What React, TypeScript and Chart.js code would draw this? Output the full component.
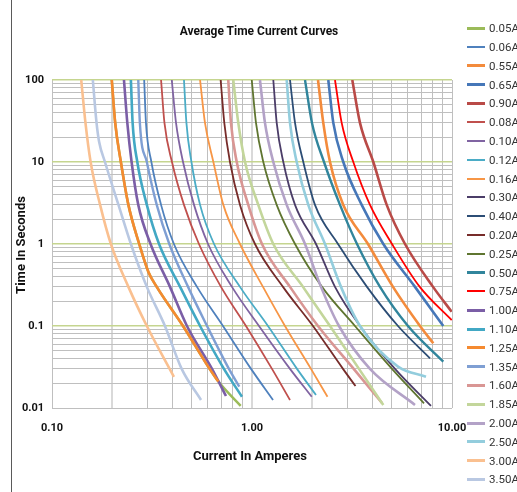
import React, { useEffect, useRef } from 'react';
import { Chart, registerables } from 'chart.js';

Chart.register(...registerables);

// ---- Series labels (legend order) ----
const seriesLabels = [
  '0.05A', '0.06A', '0.55A', '0.65A', '0.90A', '0.08A', '0.10A', '0.12A', '0.16A',
  '0.30A', '0.40A', '0.20A', '0.25A', '0.50A', '0.75A', '1.00A', '1.10A', '1.25A',
  '1.35A', '1.60A', '1.85A', '2.00A', '2.50A', '3.00A', '3.50A',
];

// ---- Current (A) / time (s) readings per series ----
const amps005 = [0.199, 0.207, 0.221, 0.241, 0.273, 0.303, 0.334, 0.452, 0.614, 0.679, 0.878];
const secs005 = [100, 30, 10, 3, 1, 0.46, 0.3, 0.1, 0.03, 0.021, 0.0106];

const amps006 = [0.289, 0.295, 0.314, 0.351, 0.407, 0.531, 0.716, 0.989, 1.274];
const secs006 = [100, 30, 10, 3, 1, 0.3, 0.1, 0.03, 0.0125];

const amps055 = [2.138, 2.272, 2.455, 2.861, 3.802, 5.07, 6.918, 8.063];
const secs055 = [100, 30, 10, 3, 1, 0.3, 0.1, 0.0615];

const amps065 = [2.407, 2.55, 2.861, 3.536, 4.535, 6.531, 9.047];
const secs065 = [100, 30, 10, 3, 1, 0.3, 0.1];

const amps090 = [3.173, 3.467, 4.042, 4.716, 5.821, 8.04, 9.966];
const secs090 = [100, 30, 10, 3, 1, 0.3, 0.149];

const amps008 = [0.351, 0.365, 0.398, 0.457, 0.543, 0.7, 0.933, 1.259, 1.549];
const secs008 = [100, 30, 10, 3, 1, 0.3, 0.1, 0.03, 0.0125];

const amps010 = [0.397, 0.417, 0.452, 0.513, 0.603, 0.794, 1.084, 1.549, 1.989];
const secs010 = [100, 30, 10, 3, 1, 0.3, 0.1, 0.03, 0.0137];

const amps012 = [0.457, 0.47, 0.498, 0.55, 0.646, 0.871, 1.202, 1.679, 2.089];
const secs012 = [100, 30, 10, 3, 1, 0.3, 0.1, 0.03, 0.0144];

const amps016 = [0.55, 0.582, 0.641, 0.719, 0.871, 1.135, 1.462, 1.972, 2.385];
const secs016 = [100, 30, 10, 3, 1, 0.3, 0.1, 0.03, 0.0137];

const amps030 = [1.278, 1.329, 1.434, 1.641, 2.089, 2.6, 3.467, 5.188, 7.852];
const secs030 = [100, 30, 10, 3, 1, 0.3, 0.1, 0.03, 0.0106];

const amps040 = [1.549, 1.641, 1.805, 2.065, 2.692, 3.758, 5.37, 7.762];
const secs040 = [100, 30, 10, 3, 1, 0.3, 0.1, 0.0404];

const amps020 = [0.697, 0.727, 0.776, 0.871, 1.035, 1.429, 2.018, 2.851, 3.292];
const secs020 = [100, 30, 10, 3, 1, 0.3, 0.1, 0.03, 0.0185];

const amps025 = [0.997, 1.047, 1.139, 1.329, 1.641, 2.239, 3.273, 5.012, 7.244];
const secs025 = [100, 30, 10, 3, 1, 0.3, 0.1, 0.03, 0.0114];

const amps050 = [1.841, 1.995, 2.291, 2.754, 3.35, 4.365, 6.026, 9.047];
const secs050 = [100, 30, 10, 3, 1, 0.3, 0.1, 0.0367];

const amps075 = [2.6, 2.808, 3.21, 3.89, 5.012, 6.9, 9.966];
const secs075 = [100, 30, 10, 3, 1, 0.3, 0.118];

const amps100 = [0.229, 0.238, 0.25, 0.27, 0.311, 0.389, 0.473, 0.631, 0.741];
const secs100 = [100, 30, 10, 3, 1, 0.3, 0.1, 0.03, 0.014];

const amps110 = [0.248, 0.253, 0.267, 0.298, 0.343, 0.437, 0.55, 0.724, 0.891];
const secs110 = [100, 30, 10, 3, 1, 0.3, 0.1, 0.03, 0.0137];

const amps125 = [0.199, 0.207, 0.221, 0.241, 0.273, 0.303, 0.334, 0.452, 0.614, 0.679];
const secs125 = [100, 30, 10, 3, 1, 0.46, 0.3, 0.1, 0.03, 0.021];

const amps135 = [0.27, 0.275, 0.298, 0.334, 0.386, 0.479, 0.596, 0.767, 0.864];
const secs135 = [100, 30, 10, 3, 1, 0.3, 0.1, 0.03, 0.0182];

const amps160 = [0.761, 0.785, 0.839, 0.958, 1.122, 1.549, 2.138, 3.225, 4.467];
const secs160 = [100, 30, 10, 3, 1, 0.3, 0.1, 0.03, 0.0115];

const amps185 = [0.806, 0.854, 0.923, 1.075, 1.278, 1.799, 2.455, 3.428, 4.535];
const secs185 = [100, 30, 10, 3, 1, 0.3, 0.1, 0.03, 0.0109];

const amps200 = [1.096, 1.161, 1.278, 1.491, 1.841, 2.213, 2.723, 3.89, 6.531];
const secs200 = [100, 30, 10, 3, 1, 0.3, 0.1, 0.03, 0.0109];

const amps250 = [1.491, 1.549, 1.673, 1.912, 2.317, 2.786, 3.467, 5.37, 7.413];
const secs250 = [100, 30, 10, 3, 1, 0.3, 0.1, 0.032, 0.0241];

const amps300 = [0.14, 0.147, 0.156, 0.174, 0.197, 0.241, 0.298, 0.407];
const secs300 = [100, 30, 10, 3, 1, 0.3, 0.1, 0.024];

const amps350 = [0.16, 0.167, 0.172, 0.184, 0.215, 0.248, 0.298, 0.367, 0.445, 0.556];
const secs350 = [100, 30, 17.7, 10, 3, 1, 0.3, 0.1, 0.03, 0.0125];

const seriesAmps = [
  amps005, amps006, amps055, amps065, amps090, amps008, amps010, amps012, amps016,
  amps030, amps040, amps020, amps025, amps050, amps075, amps100, amps110, amps125,
  amps135, amps160, amps185, amps200, amps250, amps300, amps350,
];
const seriesSecs = [
  secs005, secs006, secs055, secs065, secs090, secs008, secs010, secs012, secs016,
  secs030, secs040, secs020, secs025, secs050, secs075, secs100, secs110, secs125,
  secs135, secs160, secs185, secs200, secs250, secs300, secs350,
];

// ---- Styles ----
const seriesColors = [
  '#9bbb59', '#4f81bd', '#f38b3c', '#4677b8', '#b94a47', '#c0504d', '#8064a2', '#4bacc6', '#f79646',
  '#4b3d68', '#2c4d75', '#772c2a', '#5f7530', '#31859c', '#ff0000', '#7b5ea6', '#42a8c4', '#f58a30',
  '#7f9fd3', '#d99694', '#c3d69b', '#b3a2c7', '#93cddd', '#fac090', '#b9c8e2',
];
const seriesWidths = [
  2.5, 1.8, 2.6, 2.6, 2.6, 1.8, 1.8, 1.8, 1.8,
  1.8, 1.8, 1.8, 1.8, 2.4, 1.8, 2.6, 2.6, 2.6,
  2.4, 2.6, 2.6, 2.6, 2.6, 2.6, 2.6,
];

// ---- Axis ticks ----
const xGridValues = [0.1, 0.2, 0.3, 0.4, 0.5, 0.6, 0.7, 0.8, 0.9, 1, 2, 3, 4, 5, 6, 7, 8, 9, 10];
const yGridValues = [
  0.01, 0.02, 0.03, 0.04, 0.05, 0.06, 0.07, 0.08, 0.09,
  0.1, 0.2, 0.3, 0.4, 0.5, 0.6, 0.7, 0.8, 0.9,
  1, 2, 3, 4, 5, 6, 7, 8, 9,
  10, 20, 30, 40, 50, 60, 70, 80, 90, 100,
];
const xTickLabels: Record<string, string> = { '0.1': '0.10', '1': '1.00', '10': '10.00' };
const yTickLabels: Record<string, string> = { '0.01': '0.01', '0.1': '0.1', '1': '1', '10': '10', '100': '100' };

const W = 517;
const H = 492;

const isDecade = (v: number) => Math.abs(Math.log10(v) - Math.round(Math.log10(v))) < 1e-6;

export default function App() {
  const canvasRef = useRef<HTMLCanvasElement | null>(null);

  useEffect(() => {
    const canvas = canvasRef.current;
    if (!canvas) return;
    const N = seriesLabels.length;
    const datasets = seriesLabels.map((label, i) => ({
      label,
      data: seriesAmps[i].map((a, k) => ({ x: a, y: seriesSecs[i][k] })),
      borderColor: seriesColors[i],
      backgroundColor: seriesColors[i],
      borderWidth: seriesWidths[i],
      showLine: true,
      pointRadius: 0,
      pointHoverRadius: 0,
      cubicInterpolationMode: 'monotone',
      fill: false,
      order: N - i,
    }));

    const chart = new Chart(canvas, {
      type: 'scatter',
      data: { datasets },
      options: {
        animation: false,
        responsive: false,
        maintainAspectRatio: false,
        layout: { padding: { left: 0, right: 65, top: 80, bottom: 0 } },
        plugins: {
          legend: { display: false },
          tooltip: { enabled: false },
          title: { display: false },
        },
        scales: {
          x: {
            type: 'logarithmic',
            position: 'bottom',
            min: 0.1,
            max: 10,
            afterBuildTicks: (s: any) => {
              s.ticks = xGridValues.map((v) => ({ value: v }));
            },
            afterFit: (s: any) => {
              s.height = 84;
            },
            ticks: {
              autoSkip: false,
              maxRotation: 0,
              padding: 14,
              color: '#111',
              font: { family: 'Roboto', size: 11, weight: 'bold' },
              callback: (v: any) => xTickLabels[String(v)] ?? '',
            },
            grid: {
              drawTicks: false,
              color: (ctx: any) => {
                const v = ctx.tick ? ctx.tick.value : 0;
                return v === 0.2 || v === 1 || v === 2 ? '#d9d9d9' : '#bfbfbf';
              },
              lineWidth: (ctx: any) => {
                const v = ctx.tick ? ctx.tick.value : 0;
                return v === 0.2 || v === 1 || v === 2 ? 2 : 1;
              },
            },
            border: { display: false },
          },
          y: {
            type: 'logarithmic',
            position: 'left',
            min: 0.01,
            max: 100,
            afterBuildTicks: (s: any) => {
              s.ticks = yGridValues.map((v) => ({ value: v }));
            },
            afterFit: (s: any) => {
              s.width = 52;
            },
            ticks: {
              autoSkip: false,
              padding: 8,
              color: '#111',
              font: { family: 'Roboto', size: 11, weight: 'bold' },
              callback: (v: any) => yTickLabels[String(v)] ?? '',
            },
            grid: {
              drawTicks: false,
              color: (ctx: any) => {
                const v = ctx.tick ? ctx.tick.value : 0;
                return isDecade(v) && v > 0.05 ? '#c5d58f' : '#bfbfbf';
              },
              lineWidth: (ctx: any) => {
                const v = ctx.tick ? ctx.tick.value : 0;
                return isDecade(v) && v > 0.05 ? 1.5 : 1;
              },
            },
            border: { display: false },
          },
        },
      },
    } as any);

    return () => {
      chart.destroy();
    };
  }, []);

  const legendTop = 28.2;
  const legendStep = 18.8;

  return (
    <div
      style={{
        position: 'fixed',
        left: 0,
        top: 0,
        width: W,
        height: H,
        background: '#ffffff',
        overflow: 'hidden',
        fontFamily: 'Roboto, sans-serif',
      }}
    >
      <canvas ref={canvasRef} width={W} height={H} style={{ position: 'absolute', left: 0, top: 0, width: W, height: H }} />
      <div style={{ position: 'absolute', left: 11, top: 0, width: 1, height: H, background: '#5a5a5a' }} />
      <div
        style={{
          position: 'absolute',
          left: 259,
          top: 31,
          transform: 'translate(-50%, -50%)',
          fontSize: 12,
          fontWeight: 'bold',
          color: '#111',
          whiteSpace: 'nowrap',
        }}
      >
        Average Time Current Curves
      </div>
      <div
        style={{
          position: 'absolute',
          left: 20,
          top: 245,
          transform: 'translate(-50%, -50%) rotate(-90deg)',
          fontSize: 13,
          fontWeight: 'bold',
          color: '#111',
          whiteSpace: 'nowrap',
        }}
      >
        Time In Seconds
      </div>
      <div
        style={{
          position: 'absolute',
          left: 250,
          top: 455,
          transform: 'translate(-50%, -50%)',
          fontSize: 13,
          fontWeight: 'bold',
          color: '#111',
          whiteSpace: 'nowrap',
        }}
      >
        Current In Amperes
      </div>
      {seriesLabels.map((label, i) => {
        const cy = legendTop + legendStep * i;
        const lw = seriesWidths[i] >= 2.4 ? 3 : 2;
        return (
          <React.Fragment key={label}>
            <div
              style={{
                position: 'absolute',
                left: 467,
                top: cy - lw / 2,
                width: 18,
                height: lw,
                background: seriesColors[i],
              }}
            />
            <div
              style={{
                position: 'absolute',
                left: 489,
                top: cy,
                transform: 'translateY(-50%)',
                fontSize: 11.5,
                color: '#333',
                whiteSpace: 'nowrap',
                lineHeight: '14px',
              }}
            >
              {label}
            </div>
          </React.Fragment>
        );
      })}
    </div>
  );
}
